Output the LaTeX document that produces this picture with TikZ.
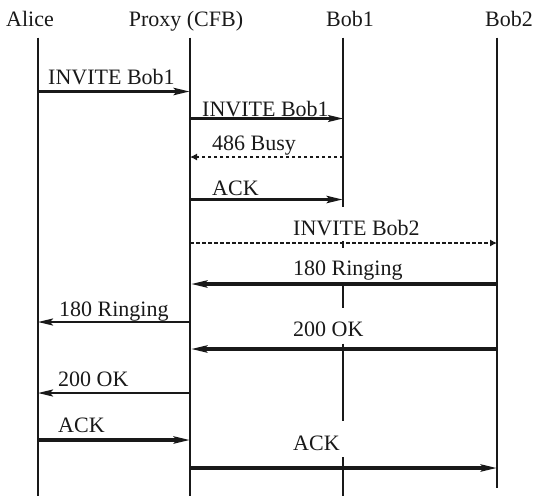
\documentclass[tikz,border=0pt]{standalone}
\usepackage{fontspec}
\setmainfont{Liberation Serif}
\usetikzlibrary{arrows.meta}
\begin{document}
\begin{tikzpicture}[x=1pt,y=-1pt,
  every node/.style={font=\fontsize{22}{26}\selectfont, inner sep=0pt, text=black!90},
  hdr/.style={anchor=base},
  lbl/.style={anchor=base west},
  life/.style={line width=2.2pt, black!90},
  msgthick/.style={line width=3.3pt, black!90, -{Stealth[length=16pt,width=7pt,inset=3pt]}},
  msgmid/.style={line width=2.3pt, black!90, -{Stealth[length=15pt,width=7pt,inset=3pt]}},
  msgdash/.style={line width=1.1pt, black!90, dash pattern=on 3.5pt off 2.5pt, -{Latex[length=7pt,width=7pt]}}]
\useasboundingbox (0,0) rectangle (534,496);
% header nodes
\node[hdr] (alice) at (30,26.5) {Alice};
\node[hdr] (proxy) at (186,26.5) {Proxy (CFB)};
\node[hdr] (bobA) at (350,26.5) {Bob1};
\node[hdr] (bobB) at (509,26.5) {Bob2};
% lifeline coordinates
\coordinate (at) at (38,37.5); \coordinate (ab) at (38,496);
\coordinate (pt) at (190,37.5); \coordinate (pb) at (190,496);
\coordinate (ct) at (497,37.5); \coordinate (cb) at (497,488);
\coordinate (b0) at (343,37.5); \coordinate (b1) at (343,207);
\coordinate (b2) at (343,241); \coordinate (b3) at (343,247.5);
\coordinate (b4) at (343,286); \coordinate (b5) at (343,308);
\coordinate (b6) at (343,343.5); \coordinate (b7) at (343,421);
\coordinate (b8) at (343,457); \coordinate (b9) at (343,496);
\draw[life] (at) -- (ab);
\draw[life] (pt) -- (pb);
\draw[life] (ct) -- (cb);
\draw[life] (b0) -- (b1) (b2) -- (b3) (b4) -- (b5) (b6) -- (b7) (b8) -- (b9);
% messages
\draw[msgthick] (38,91.5) -- (190,91.5);
\node[lbl] (m1) at (48,84) {INVITE Bob1};
\draw[msgmid] (190,118.5) -- (343,118.5);
\node[lbl] (m2) at (202,116.5) {INVITE Bob1};
\draw[msgdash] (343,157) -- (190,157);
\node[lbl] (m3) at (212,150) {486 Busy};
\draw[msgthick] (190,199.5) -- (343,199.5);
\node[lbl] (m4) at (212,195) {ACK};
\draw[msgdash] (190,243) -- (497,243);
\node[lbl] (m5) at (293,235) {INVITE Bob2};
\draw[msgthick] (497,284) -- (191,284);
\node[lbl] (m6) at (293,275) {180 Ringing};
\draw[msgmid] (190,322) -- (38,322);
\node[lbl] (m7) at (59,316) {180 Ringing};
\draw[msgthick] (497,349) -- (191,349);
\node[lbl] (m8) at (293,336) {200 OK};
\draw[msgmid] (190,393) -- (38,393);
\node[lbl] (m9) at (58,386.5) {200 OK};
\draw[msgthick] (38,440) -- (190,440);
\node[lbl] (m10) at (58,432) {ACK};
\draw[msgthick] (190,468) -- (497,468);
\node[lbl] (m11) at (293,450) {ACK};
\end{tikzpicture}
\end{document}
